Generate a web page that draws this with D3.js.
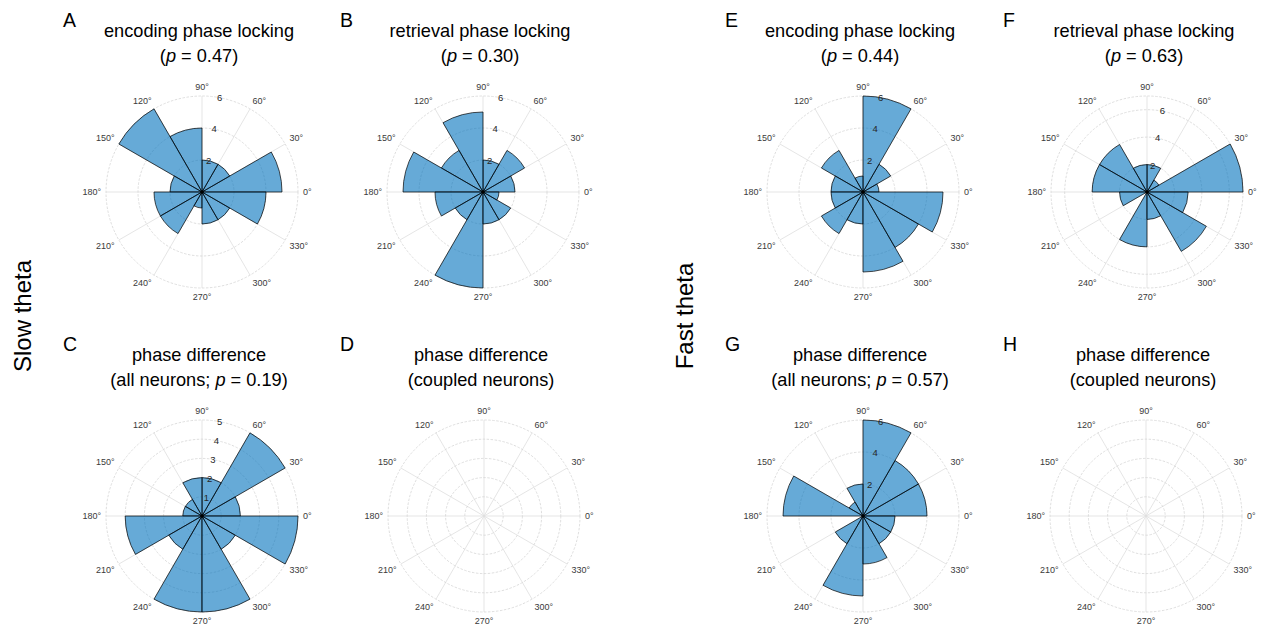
<!DOCTYPE html>
<html>
<head>
<meta charset="utf-8">
<script src="https://cdn.jsdelivr.net/npm/d3@7"></script>
<style>
  body { margin: 0; background: #fff; }
  svg { display: block; }
  text { font-family: "Liberation Sans", Arial, Helvetica, sans-serif; }
</style>
</head>
<body>
<svg id="fig" width="1262" height="630"></svg>
<script>
// Lower edge (degrees) of each 30° phase bin
const phaseBins = [0, 30, 60, 90, 120, 150, 180, 210, 240, 270, 300, 330];
const binWidth = 30;
const thetaTickLabels = ["0°", "30°", "60°", "90°", "120°", "150°", "180°", "210°", "240°", "270°", "300°", "330°"];

// Neuron counts per phase bin, slow theta
const slowEncoding   = [5, 2, 2, 4, 6, 2, 3, 3, 1, 2, 2, 4];
const slowRetrieval  = [2, 3, 2, 5, 3, 5, 3, 2, 6, 2, 2, 1];
const slowPhaseDiff  = [2, 5, 2, 2, 1, 1, 4, 2, 5, 5, 2, 5];
const slowCoupled    = [];

// Neuron counts per phase bin, fast theta
const fastEncoding   = [1, 2, 6, 1, 3, 2, 2, 3, 2, 5, 4, 5];
const fastRetrieval  = [7, 1, 2, 2, 4, 4, 2, 0, 4, 2, 5, 3];
const fastPhaseDiff  = [4, 4, 6, 2, 1, 5, 0, 2, 5, 3, 2, 2];
const fastCoupled    = [];

// Radial ticks
const rTicksEven   = [2, 4, 6];
const rTicksUnit   = [1, 2, 3, 4, 5];
const rTicksEmpty  = [0.2, 0.4, 0.6, 0.8, 1];

// Titles
const titleEncoding  = "encoding phase locking";
const titleRetrieval = "retrieval phase locking";
const titlePhaseDiff = "phase difference";
const subCoupled     = "(coupled neurons)";
const pValues = { A: "0.47", B: "0.30", C: "0.19", E: "0.44", F: "0.63", G: "0.57" };

const R = 96;           // outer radius of every polar axis
const deg = Math.PI / 180;
const svg = d3.select("#fig");

const panels = [
  { id: "A", cx: 202,  cy: 192, lx: 63,   values: slowEncoding,  rMax: 6, rTicks: rTicksEven, t1: titleEncoding,  t2: { pre: "", p: pValues.A } },
  { id: "B", cx: 483,  cy: 192, lx: 340,  values: slowRetrieval, rMax: 6, rTicks: rTicksEven, t1: titleRetrieval, t2: { pre: "", p: pValues.B } },
  { id: "C", cx: 202,  cy: 516, lx: 63,   values: slowPhaseDiff, rMax: 5, rTicks: rTicksUnit, t1: titlePhaseDiff, t2: { pre: "all neurons; ", p: pValues.C } },
  { id: "D", cx: 484,  cy: 516, lx: 340,  values: slowCoupled,   rMax: 1, rTicks: rTicksEmpty, hideR: true, t1: titlePhaseDiff, t2: subCoupled },
  { id: "E", cx: 863,  cy: 192, lx: 725,  values: fastEncoding,  rMax: 6, rTicks: rTicksEven, t1: titleEncoding,  t2: { pre: "", p: pValues.E } },
  { id: "F", cx: 1147, cy: 192, lx: 1003, values: fastRetrieval, rMax: 7, rTicks: rTicksEven, t1: titleRetrieval, t2: { pre: "", p: pValues.F } },
  { id: "G", cx: 863,  cy: 516, lx: 725,  values: fastPhaseDiff, rMax: 6, rTicks: rTicksEven, t1: titlePhaseDiff, t2: { pre: "all neurons; ", p: pValues.G } },
  { id: "H", cx: 1146, cy: 516, lx: 1003, values: fastCoupled,   rMax: 1, rTicks: rTicksEmpty, hideR: true, t1: titlePhaseDiff, t2: subCoupled }
];

function drawPolar(p) {
  const g = svg.append("g").attr("transform", `translate(${p.cx},${p.cy})`);
  const r = d3.scaleLinear().domain([0, p.rMax]).range([0, R]);

  // grid: spokes every 30°
  g.append("g").selectAll("line")
    .data(phaseBins)
    .join("line")
    .attr("x1", 0).attr("y1", 0)
    .attr("x2", d => R * Math.cos(d * deg))
    .attr("y2", d => -R * Math.sin(d * deg))
    .attr("stroke", "#dedede")
    .attr("stroke-width", 0.8);

  // grid: rings at radial ticks plus the axis edge
  const rings = p.rTicks.filter(t => t < p.rMax).concat([p.rMax]);
  g.append("g").selectAll("circle")
    .data(rings)
    .join("circle")
    .attr("r", d => r(d))
    .attr("fill", "none")
    .attr("stroke", "#d6d6d6")
    .attr("stroke-width", 0.8)
    .attr("stroke-dasharray", "2.5,1.5");

  // histogram sectors
  const arc = d3.arc()
    .innerRadius(0)
    .outerRadius(d => r(d.v))
    .startAngle(d => (90 - d.a - binWidth) * deg)
    .endAngle(d => (90 - d.a) * deg);

  const bins = p.values.map((v, i) => ({ a: phaseBins[i], v }));
  g.append("g").selectAll("path")
    .data(bins.filter(d => d.v > 0))
    .join("path")
    .attr("d", arc)
    .attr("fill", "#0072bd")
    .attr("fill-opacity", 0.6)
    .attr("stroke", "#000")
    .attr("stroke-width", 0.7)
    .attr("stroke-linejoin", "miter");

  // centre point where sector edges meet
  if (p.values.length) {
    g.append("circle").attr("r", 1.8).attr("fill", "#000");
  }

  // radial tick labels along 80°
  if (!p.hideR) {
    g.append("g").selectAll("text")
      .data(p.rTicks)
      .join("text")
      .attr("x", d => r(d) * Math.cos(80 * deg) + 1)
      .attr("y", d => -r(d) * Math.sin(80 * deg))
      .attr("text-anchor", "middle")
      .attr("dominant-baseline", "central")
      .attr("font-size", 9.5)
      .attr("fill", "#262626")
      .text(d => d);
  }

  // angular tick labels
  const off = R + 5;
  g.append("g").selectAll("text")
    .data(phaseBins)
    .join("text")
    .attr("x", d => off * Math.cos(d * deg))
    .attr("y", d => -off * Math.sin(d * deg))
    .attr("text-anchor", d => {
      const c = Math.cos(d * deg);
      return c > 0.1 ? "start" : c < -0.1 ? "end" : "middle";
    })
    .attr("dy", d => {
      const s = Math.sin(d * deg);
      return s > 0.1 ? "-0.1em" : s < -0.1 ? "0.75em" : "0.35em";
    })
    .attr("font-size", 9)
    .attr("fill", "#3a3a3a")
    .text((d, i) => thetaTickLabels[i]);

  // two-line title
  const tx = p.cx - 3;
  svg.append("text")
    .attr("x", tx).attr("y", p.cy - 155)
    .attr("text-anchor", "middle")
    .attr("font-size", 18.2)
    .attr("fill", "#000")
    .text(p.t1);

  const t2 = svg.append("text")
    .attr("x", tx).attr("y", p.cy - 130)
    .attr("text-anchor", "middle")
    .attr("font-size", 18.2)
    .attr("fill", "#000");
  if (typeof p.t2 === "string") {
    t2.text(p.t2);
  } else {
    t2.append("tspan").text("(" + p.t2.pre);
    t2.append("tspan").attr("font-style", "italic").text("p");
    t2.append("tspan").text(" = " + p.t2.p + ")");
  }

  // panel letter
  svg.append("text")
    .attr("x", p.lx).attr("y", p.cy - 165)
    .attr("font-size", 19.5)
    .attr("fill", "#000")
    .text(p.id);
}

panels.forEach(drawPolar);

// row labels
svg.append("text")
  .attr("transform", "translate(31,316) rotate(-90)")
  .attr("text-anchor", "middle")
  .attr("font-size", 24)
  .attr("fill", "#000")
  .text("Slow theta");

svg.append("text")
  .attr("transform", "translate(693,316) rotate(-90)")
  .attr("text-anchor", "middle")
  .attr("font-size", 24)
  .attr("fill", "#000")
  .text("Fast theta");
</script>
</body>
</html>
